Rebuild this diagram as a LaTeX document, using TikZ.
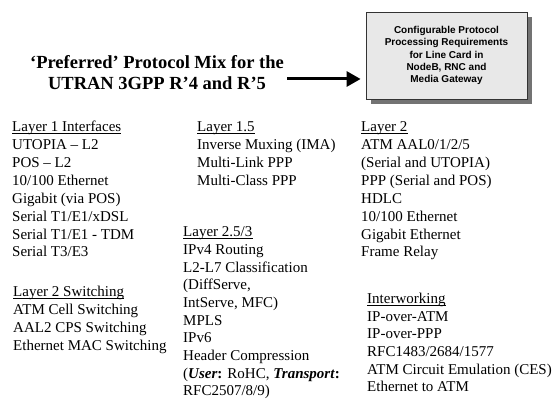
\documentclass[tikz,border=0pt]{standalone}
\usepackage{fontspec}
\setmainfont{Liberation Serif}
\newfontfamily\boxfont{Liberation Sans}
\usepackage{tikz}
\usetikzlibrary{arrows.meta}
\usetikzlibrary{positioning}

\tikzset{
  item/.style={anchor=base west, inner sep=0pt, font=\fontsize{15}{18}\selectfont},
  headrule/.style={line width=0.7pt},
  cfgbox/.style={draw=black!80, fill=gray!18, line width=0.8pt, minimum width=161pt, minimum height=87pt,
                 inner sep=0pt, align=center, font=\boxfont\bfseries\fontsize{10}{12.2}\selectfont},
  shadowbox/.style={fill=black!55, inner sep=0pt, minimum width=161pt, minimum height=87pt},
  bigarrow/.style={line width=3pt, -{Triangle[length=14pt,width=15pt]}, shorten >=5pt}
}

\begin{document}
\begin{tikzpicture}[x=1pt,y=-1pt]
                      \useasboundingbox (0,0) rectangle (555,403);
                      \node[font=\bfseries\fontsize{18.5}{21.5}\selectfont, align=center] (title) at (157,72.5)
                          {`Preferred' Protocol Mix for the\\UTRAN 3GPP R'4 and R'5};
                      \node[shadowbox] (shadow) at (451.5,60.5) {};
                      \node[cfgbox] (cfg) at (446.5,55.5)
                          {Configurable Protocol\\Processing Requirements\\for Line Card in\\NodeB, RNC and\\Media Gateway};
                      \coordinate (arrowstart) at (287,79);
                      \draw[bigarrow] (arrowstart) -- (arrowstart -| cfg.west);
                      % layer 1
                      \node[item] (l1head) at (12,131.7) {Layer 1 Interfaces};
                      \foreach \txt [count=\i] in {UTOPIA -- L2, POS -- L2, 10/100 Ethernet, Gigabit (via POS),
                          Serial T1/E1/xDSL, Serial T1/E1 - TDM, Serial T3/E3}
                          \node[item] (l1-\i) at (12,131.7+17.9*\i) {\txt};
                      % layer 2 switching
                      \node[item] (swhead) at (13,296.7) {Layer 2 Switching};
                      \foreach \txt [count=\i] in {ATM Cell Switching, AAL2 CPS Switching, Ethernet MAC Switching}
                          \node[item] (sw-\i) at (13,296.7+17.9*\i) {\txt};
                      % layer 1.5
                      \node[item] (l15head) at (197,131.7) {Layer 1.5};
                      \foreach \txt [count=\i] in {Inverse Muxing (IMA), Multi-Link PPP, Multi-Class PPP}
                          \node[item] (l15-\i) at (197,131.7+17.9*\i) {\txt};
                      % layer 2.5/3
                      \node[item] (l25head) at (183,236.7) {Layer 2.5/3};
                      \foreach \txt [count=\i] in {IPv4 Routing, L2-L7 Classification, {(DiffServe,}, {IntServe, MFC)},
                          MPLS, IPv6, Header Compression,
                          {(\textbf{\textit{User}:} RoHC, \textbf{\textit{Transport}:}}, RFC2507/8/9)}
                          \node[item] (l25-\i) at (183,236.7+17.7*\i) {\txt};
                      % layer 2
                      \node[item] (l2head) at (361,131.7) {Layer 2};
                      \foreach \txt [count=\i] in {ATM AAL0/1/2/5, (Serial and UTOPIA), PPP (Serial and POS), HDLC,
                          10/100 Ethernet, Gigabit Ethernet, Frame Relay}
                          \node[item] (l2-\i) at (361,131.7+17.9*\i) {\txt};
                      % interworking
                      \node[item] (iwhead) at (367,303.5) {Interworking};
                      \foreach \txt [count=\i] in {IP-over-ATM, IP-over-PPP, RFC1483/2684/1577,
                          ATM Circuit Emulation (CES), Ethernet to ATM}
                          \node[item] (iw-\i) at (367,303.5+17.7*\i) {\txt};
                      % underlines
                      \foreach \h in {l1head, swhead, l15head, l25head, l2head, iwhead}
                          \draw[headrule] ([yshift=-1.6pt]\h.base west) -- ([yshift=-1.6pt]\h.base east);
                  \end{tikzpicture}
\end{document}
